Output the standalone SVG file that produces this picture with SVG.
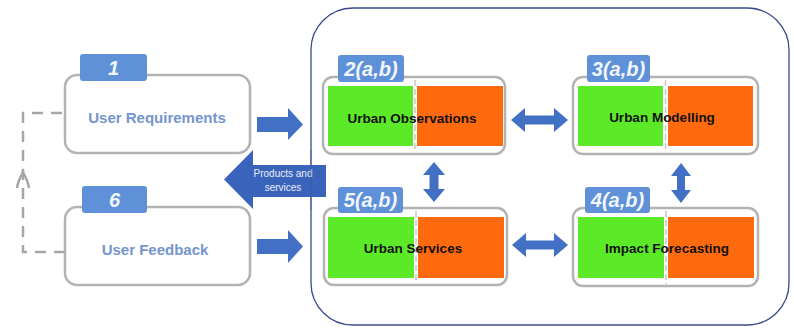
<svg xmlns="http://www.w3.org/2000/svg" width="794" height="328" viewBox="0 0 794 328">
  <style>
    .user { fill: #ffffff; stroke: #b3b3b3; stroke-width: 2.5; }
    .tab { fill: #5f91d8; }
    .tabtxt { font-family: "Liberation Sans", Arial, sans-serif; font-weight: bold; font-style: italic; font-size: 20px; fill: #f2f6ff; text-anchor: middle; }
    .utxt { font-family: "Liberation Sans", Arial, sans-serif; font-weight: bold; font-size: 15px; fill: #7595cf; text-anchor: middle; }
    .frame { fill: #ffffff; stroke: #b3b3b3; stroke-width: 2.5; }
    .green { fill: #5cea28; }
    .orange { fill: #ff6a0e; }
    .divider { stroke: #c8c8c8; stroke-width: 1.5; stroke-dasharray: 6 3; }
    .ntxt { font-family: "Liberation Sans", Arial, sans-serif; font-weight: bold; font-size: 13.5px; fill: #111111; text-anchor: middle; }
    .barrow { fill: #4170c4; }
    .feedback { fill: none; stroke: #a6a6a6; stroke-width: 2.5; stroke-dasharray: 11 8; }
  </style>

  <!-- processing domain container -->
  <rect id="container" x="311" y="8" width="478" height="317" rx="42" ry="42" fill="none" stroke="#3c4a8c" stroke-width="1.3"/>

  <!-- user side -->
  <g id="user-requirements">
    <rect class="user" x="65" y="75" width="185" height="78" rx="12"/>
    <rect class="tab" x="80" y="54" width="67" height="27" rx="3"/>
    <text class="tabtxt" x="113.5" y="75">1</text>
    <text class="utxt" x="157" y="123">User Requirements</text>
  </g>

  <g id="user-feedback">
    <rect class="user" x="65" y="207" width="185" height="78" rx="12"/>
    <rect class="tab" x="82" y="186" width="65" height="27" rx="3"/>
    <text class="tabtxt" x="114.5" y="207">6</text>
    <text class="utxt" x="155" y="255">User Feedback</text>
  </g>

  <!-- processing chain -->
  <g id="urban-observations">
    <rect class="frame" x="323" y="77" width="182" height="77" rx="10"/>
    <rect class="green" x="328" y="86" width="85" height="60"/>
    <rect class="orange" x="417" y="86" width="86" height="60"/>
    <line class="divider" x1="415" y1="80" x2="415" y2="152"/>
    <rect class="tab" x="338" y="55" width="66" height="27" rx="3"/>
    <text class="tabtxt" x="371" y="76">2(a,b)</text>
    <text class="ntxt" x="412" y="123">Urban Observations</text>
  </g>

  <g id="urban-modelling">
    <rect class="frame" x="573" y="77" width="185" height="77" rx="10"/>
    <rect class="green" x="578" y="86" width="85" height="60"/>
    <rect class="orange" x="668" y="86" width="85" height="60"/>
    <line class="divider" x1="665.5" y1="80" x2="665.5" y2="152"/>
    <rect class="tab" x="587" y="55" width="63" height="27" rx="3"/>
    <text class="tabtxt" x="618.5" y="76">3(a,b)</text>
    <text class="ntxt" x="662" y="122">Urban Modelling</text>
  </g>

  <g id="urban-services">
    <rect class="frame" x="324" y="208" width="183" height="77" rx="10"/>
    <rect class="green" x="328" y="217" width="86" height="61"/>
    <rect class="orange" x="418" y="217" width="86" height="61"/>
    <line class="divider" x1="416" y1="211" x2="416" y2="283"/>
    <rect class="tab" x="338" y="187" width="65" height="26" rx="3"/>
    <text class="tabtxt" x="370.5" y="207">5(a,b)</text>
    <text class="ntxt" x="413" y="253">Urban Services</text>
  </g>

  <g id="impact-forecasting">
    <rect class="frame" x="573" y="208" width="185" height="78" rx="10"/>
    <rect class="green" x="578" y="217" width="86" height="61"/>
    <rect class="orange" x="668" y="217" width="86" height="61"/>
    <line class="divider" x1="666" y1="211" x2="666" y2="284"/>
    <rect class="tab" x="585" y="187" width="65" height="26" rx="3"/>
    <text class="tabtxt" x="617.5" y="207">4(a,b)</text>
    <text class="ntxt" x="667" y="253">Impact Forecasting</text>
  </g>

  <!-- connectors -->
  <g id="connectors">
    <!-- user requirements -> observations -->
    <polygon class="barrow" points="257,117 288,117 288,108 303,124.5 288,140 288,132 257,132"/>
    <!-- user feedback -> services -->
    <polygon class="barrow" points="257,239 288,239 288,230 303,246.5 288,263 288,254 257,254"/>
    <!-- products and services back to users -->
    <polygon fill="#3a64bb" points="326,165 253,165 253,150 224,179.5 253,209 253,197 326,197"/>
    <text font-family="'Liberation Sans', Arial, sans-serif" font-size="10" fill="#e8eefa" text-anchor="middle" x="283" y="177">Products and</text>
    <text font-family="'Liberation Sans', Arial, sans-serif" font-size="10" fill="#e8eefa" text-anchor="middle" x="283" y="191">services</text>
    <!-- observations <-> modelling -->
    <polygon class="barrow" points="511,120 525,108 525,115.5 554,115.5 554,108 568,120 554,132 554,124.5 525,124.5 525,132"/>
    <!-- services <-> forecasting -->
    <polygon class="barrow" points="512,245 526,233 526,240.5 554,240.5 554,233 568,245 554,257 554,249.5 526,249.5 526,257"/>
    <!-- observations <-> services -->
    <polygon class="barrow" points="434,162 445,175 438.5,175 438.5,189 445,189 434,202 423,189 429.5,189 429.5,175 423,175"/>
    <!-- modelling <-> forecasting -->
    <polygon class="barrow" points="681,163 691,176 685,176 685,190 691,190 681,203 671,190 677,190 677,176 671,176"/>
    <!-- feedback loop from users back to requirements -->
    <path class="feedback" d="M65,252 L23,252 L23,113 L65,113"/>
    <path d="M17,188 C18,180 22,175 23,172 C24,175 28,180 29,188" fill="none" stroke="#a6a6a6" stroke-width="2.5"/>
  </g>

  <!-- container border drawn over the outgoing arrow -->
  <line x1="311" y1="150" x2="311" y2="210" stroke="#3c4a8c" stroke-width="1" opacity="0.5"/>
</svg>
